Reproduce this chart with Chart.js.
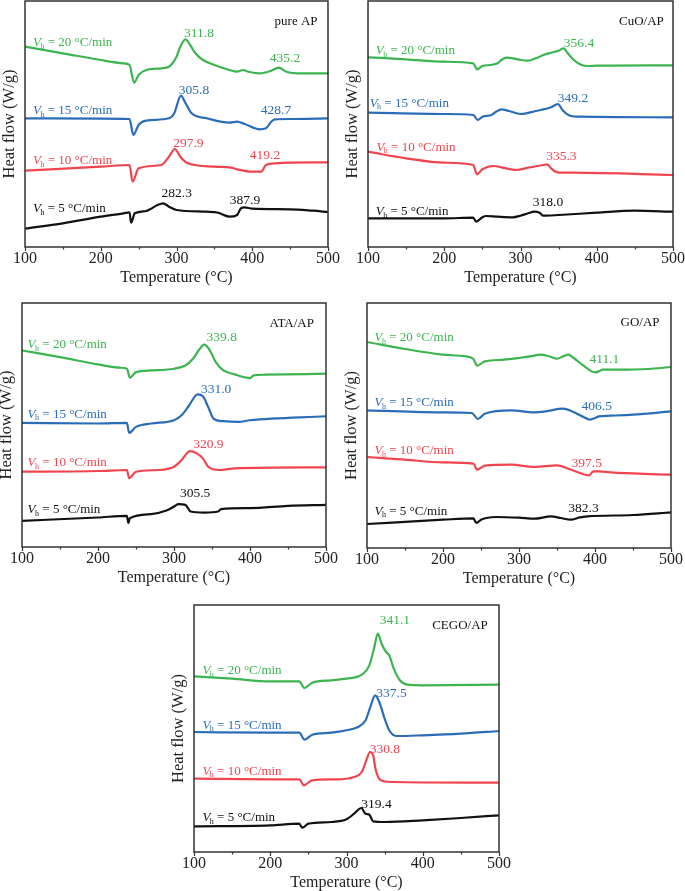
<!DOCTYPE html>
<html><head><meta charset="utf-8">
<script src="https://cdn.jsdelivr.net/npm/chart.js@4/dist/chart.umd.min.js"></script>
<style>
body{margin:0;background:#fff;width:685px;height:891px;position:relative;overflow:hidden}
.p{position:absolute}
</style></head><body>
<canvas class="p" id="c1"></canvas>
<canvas class="p" id="c2"></canvas>
<canvas class="p" id="c3"></canvas>
<canvas class="p" id="c4"></canvas>
<canvas class="p" id="c5"></canvas>
<script>
// ---------- data ----------
const xTicks = [100, 200, 300, 400, 500];
const rates = ['20', '15', '10', '5'];
const panelNames = ['pure AP', 'CuO/AP', 'ATA/AP', 'GO/AP', 'CEGO/AP'];

// [temperature °C, heat flow (arb., offset curves)]
const pureAP20 = [[100,200.3],[150,193.7],[200,187],[230,183.7],[238,182],[244,164.3],[250,172],[260,177],[280,178.7],[290,180.3],[300,190.3],[305,200.3],[311.8,207.7],[318,202],[325,193.7],[335,187],[350,182],[370,177],[380,175.3],[388,177],[395,175.3],[410,173.7],[425,176.3],[435,179.3],[445,175.3],[460,173.7],[500,173.7]];
const pureAP15 = [[100,128.7],[200,128.3],[238,128],[243,112],[250,122],[260,126.3],[290,128.7],[297,133.7],[305.8,151.3],[312,143.7],[320,133.7],[340,128.7],[370,124.3],[380,125.3],[390,123],[410,117.7],[418,118.7],[425,125.3],[430,127.7],[450,128],[500,128.7]];
const pureAP10 = [[100,76.3],[200,80.3],[238,82],[242,65.3],[250,78.7],[280,82],[290,90.3],[297.9,98],[305,90.3],[315,83.7],[350,80.3],[372,79.3],[380,77.7],[400,75.3],[412,75.3],[418,82],[430,83.7],[500,84.7]];
const pureAP5 = [[100,18.3],[150,23.7],[200,30.3],[230,33.7],[238,34.7],[240,24.3],[245,33.7],[260,36],[265,37.7],[275,42],[282.3,43.7],[290,40.3],[300,37],[340,35.3],[355,34.3],[360,32.7],[370,30.3],[380,32],[385,38.7],[390,39.7],[400,38.3],[450,37.7],[480,36.3],[500,35]];

const cuoAP20 = [[100,189.7],[150,187.7],[200,185.3],[238,183.7],[243,177.7],[250,181],[260,182],[270,183.7],[275,187],[282,189.3],[290,188.7],[300,187],[310,186.3],[320,188.7],[330,192],[340,194.3],[350,196.3],[356.4,198.7],[362,193.7],[370,187],[380,182],[390,181],[400,181.3],[500,181.7]];
const cuoAP15 = [[100,134.3],[200,133],[238,132],[244,127],[250,130.3],[262,132],[268,135.3],[275,137.7],[285,136],[300,133],[320,136],[340,139.7],[349.2,143],[355,137],[365,131.3],[380,130.3],[500,129.7]];
const cuoAP10 = [[100,95.3],[150,88.7],[200,84.3],[238,82],[243,72.7],[250,77.7],[265,81],[275,79.7],[295,77],[310,79.3],[330,82],[335.3,82.7],[340,78.7],[348,74.7],[370,74.3],[500,72]];
const cuoAP5 = [[100,28.7],[200,28.7],[238,29.3],[242,25.3],[250,29.7],[255,31],[270,30.3],[290,29.7],[300,31.3],[310,33.7],[318,35.3],[325,34.3],[330,31.3],[350,32],[400,34.3],[450,36.3],[500,35.3]];

const ataAP20 = [[100,197.3],[150,190.6],[200,183.3],[230,180],[238,179],[242,170],[250,175.6],[270,177.3],[300,179],[315,182.3],[325,189],[333,198],[339.8,203.3],[346,199],[355,185.6],[365,177.3],[380,173.3],[395,170],[400,169.6],[405,172.3],[420,173],[500,174]];
const ataAP15 = [[100,124.6],[200,124],[238,124.6],[241,114.6],[250,120.6],[270,124],[300,127.3],[310,132.3],[320,142.3],[331,153.3],[338,151.3],[345,140.6],[352,129],[365,126.3],[385,125.6],[400,127.3],[500,131.3]];
const ataAP10 = [[100,75.6],[200,76.3],[238,77.3],[241,69],[250,75.6],[280,77.3],[300,80.6],[310,87.3],[320.9,96.3],[330,94],[338,89],[345,80.6],[360,77.3],[380,79],[500,80]];
const ataAP5 = [[100,26.3],[200,29.6],[238,31.3],[240,24],[242,29],[270,33],[290,36.6],[300,40.6],[305.5,43],[315,42.3],[322,35.6],[340,34.6],[358,35.6],[362,38],[400,39],[450,41.3],[500,42.3]];

const goAP20 = [[100,206],[150,199],[200,193.3],[230,191.6],[240,189],[245,182.3],[255,186.6],[280,188.3],[300,190],[315,191.6],[328,193.3],[340,191.6],[350,189.3],[358,191.6],[365,193.3],[372,190],[385,182.3],[400,175.6],[405,176.6],[410,178.3],[430,178.3],[470,179],[500,181]];
const goAP15 = [[100,137.6],[200,135.6],[238,135],[246,129],[255,134.3],[290,137.6],[320,135.6],[335,136.6],[358,139.3],[370,136.6],[385,131],[393,128.3],[400,130],[405,131.6],[420,132.3],[450,133.3],[500,136.6]];
const goAP10 = [[100,91],[150,88.3],[200,85.6],[240,84.3],[245,78.3],[255,82.3],[290,83.3],[320,81],[350,82.6],[365,79.3],[380,75],[392,72.6],[398,76.6],[405,76.6],[420,75.6],[500,73.3]];
const goAP5 = [[100,24],[200,28.3],[240,29.6],[244,25],[250,28.3],[270,31],[300,30.3],[320,29.3],[342,31.6],[355,30],[368,28.3],[380,30.6],[390,31.6],[450,33],[500,35.6]];

const cegoAP20 = [[100,175.7],[150,173.3],[200,170.7],[238,170.7],[245,164],[255,169.3],[280,171.7],[300,173.3],[320,177.3],[330,186.7],[336,203.3],[341.1,218.3],[346,208.3],[352,200],[356,196.7],[362,183.3],[370,171.7],[380,167.3],[400,166.7],[500,167.3]];
const cegoAP15 = [[100,120],[200,119.3],[238,119.3],[245,112.3],[255,117.3],[280,119.3],[300,121.7],[315,125],[325,131.7],[332,146.7],[337.5,156.7],[343,150],[350,133.3],[356,121.7],[365,116],[400,116.7],[450,118.3],[500,121]];
const cegoAP10 = [[100,73.3],[200,72.7],[238,72.7],[244,66.7],[255,71.7],[290,72.7],[310,75],[320,80],[326,91.7],[330.8,100],[335,96.7],[338,83.3],[345,71.7],[360,70],[500,69.3]];
const cegoAP5 = [[100,25.7],[200,26.7],[238,28.3],[242,24.3],[250,28.3],[280,30],[300,32.7],[310,38.3],[319.4,44],[325,38.3],[330,37.3],[335,30.7],[350,30],[400,31.7],[450,34],[500,36.7]];

// peak temperatures labelled on each curve (20,15,10,5 °C/min)
const pureAPPeaks = [['311.8','435.2'], ['305.8','428.7'], ['297.9','419.2'], ['282.3','387.9']];
const cuoAPPeaks = [['356.4'], ['349.2'], ['335.3'], ['318.0']];
const ataAPPeaks = [['339.8'], ['331.0'], ['320.9'], ['305.5']];
const goAPPeaks = [['411.1'], ['406.5'], ['397.5'], ['382.3']];
const cegoAPPeaks = [['341.1'], ['337.5'], ['330.8'], ['319.4']];

// ---------- layout & style ----------
const colors = ['#3cb44f', '#2b6cb8', '#f0454f', '#111111'];
const SERIF = '"Liberation Serif", "Times New Roman", serif';
// plot rectangles [left, top, right, bottom] in page px
const rects = [[25,1,328,247],[368,1,673,247],[22,303,326,547],[367,303,671,548],[194,605,499,852]];
const yMaxes = [246, 246, 245, 245, 247];
// rate label anchors (data coords) per panel, per series
const rateAnchors = [
  [[110.6,204.5],[110.6,136.5],[110.6,86],[110.6,38]],
  [[110.1,196],[102.2,143.7],[111,99.7],[110.1,35.3]],
  [[107.4,203],[107.4,133.3],[107.4,84.6],[107.4,37.3]],
  [[110,210],[110,145],[110,97.3],[110,36.6]],
  [[111,181],[111,126.7],[111,80.7],[111,34]]
];
// peak label anchors (data coords), parallel to the *Peaks arrays
const peakAnchors = [
  [[[329.7,213.7],[443.2,188.7]], [[323.1,157],[431.4,137]], [[315.6,103.7],[416.8,92]], [[300.3,53.7],[390.4,47]]],
  [[[376.7,203.7]], [[368.9,148.7]], [[353.6,90.3]], [[336.1,44.7]]],
  [[[362.9,210]], [[355.4,158.3]], [[345.3,103.3]], [[327.8,53.3]]],
  [[[412.4,189]], [[402.3,141.6]], [[389.2,85]], [[384.8,40]]],
  [[[363.5,231.7]], [[359,158.4]], [[350.3,102.7]], [[339.4,47.4]]]
];
const nameAnchors = [[457.8,225.3],[458.6,225.3],[454.9,224.6],[459.3,225.6],[448.8,226]];

const panels = [
  {series:[pureAP20,pureAP15,pureAP10,pureAP5], peaks:pureAPPeaks},
  {series:[cuoAP20,cuoAP15,cuoAP10,cuoAP5], peaks:cuoAPPeaks},
  {series:[ataAP20,ataAP15,ataAP10,ataAP5], peaks:ataAPPeaks},
  {series:[goAP20,goAP15,goAP10,goAP5], peaks:goAPPeaks},
  {series:[cegoAP20,cegoAP15,cegoAP10,cegoAP5], peaks:cegoAPPeaks}
];

const PADL = 25, PADT = 5, PADR = 15, XH = 40;

const decor = {
  id: 'decor',
  afterDraw(chart) {
    const idx = chart.options.plugins.decor.idx;
    const ctx = chart.ctx, a = chart.chartArea;
    const xs = chart.scales.x, ys = chart.scales.y;
    ctx.save();
    // frame
    ctx.strokeStyle = '#333'; ctx.lineWidth = 1.5;
    ctx.strokeRect(a.left, a.top, a.right - a.left, a.bottom - a.top);
    // ticks (outward)
    ctx.lineWidth = 1.2;
    for (let t = 100; t <= 500; t += 50) {
      const px = Math.round(xs.getPixelForValue(t)) + 0.5;
      ctx.beginPath();
      ctx.moveTo(px, a.bottom);
      ctx.lineTo(px, a.bottom + (t % 100 === 0 ? 4 : 2.5));
      ctx.stroke();
    }
    ctx.textBaseline = 'middle';
    // rate labels
    rates.forEach((r, i) => {
      const [tx, tv] = rateAnchors[idx][i];
      let x = xs.getPixelForValue(tx), y = ys.getPixelForValue(tv);
      ctx.fillStyle = colors[i];
      ctx.textAlign = 'left';
      ctx.font = 'italic 13px ' + SERIF;
      ctx.fillText('V', x, y); x += ctx.measureText('V').width - 0.5;
      ctx.font = '8px ' + SERIF;
      ctx.fillText('h', x, y + 4); x += ctx.measureText('h').width;
      ctx.font = '13px ' + SERIF;
      ctx.fillText(' = ' + r + ' °C/min', x, y);
    });
    // peak labels
    const pk = panels[idx].peaks;
    pk.forEach((arr, i) => {
      arr.forEach((txt, j) => {
        const [tx, tv] = peakAnchors[idx][i][j];
        ctx.fillStyle = colors[i];
        ctx.textAlign = 'center';
        ctx.font = '13.5px ' + SERIF;
        ctx.fillText(txt, xs.getPixelForValue(tx), ys.getPixelForValue(tv));
      });
    });
    // panel name
    ctx.fillStyle = '#111'; ctx.textAlign = 'center'; ctx.font = '13px ' + SERIF;
    ctx.fillText(panelNames[idx], xs.getPixelForValue(nameAnchors[idx][0]), ys.getPixelForValue(nameAnchors[idx][1]));
    ctx.restore();
  }
};

panels.forEach((p, idx) => {
  const [L, T, R, B] = rects[idx];
  const cv = document.getElementById('c' + (idx + 1));
  const w = (R - L) + PADL + PADR, h = (B - T) + PADT + XH;
  cv.width = w; cv.height = h;
  cv.style.left = (L - PADL) + 'px';
  cv.style.top = (T - PADT) + 'px';
  cv.style.width = w + 'px'; cv.style.height = h + 'px';
  new Chart(cv, {
    type: 'line',
    data: {
      datasets: p.series.map((s, i) => ({
        label: rates[i] + ' °C/min',
        data: s.map(q => ({x: q[0], y: q[1]})),
        borderColor: colors[i],
        borderWidth: 2.2,
        pointRadius: 0,
        fill: false,
        cubicInterpolationMode: 'monotone'
      }))
    },
    options: {
      responsive: false, animation: false, devicePixelRatio: 1,
      layout: {padding: {top: PADT, right: PADR, left: 0, bottom: 0}},
      plugins: {legend: {display: false}, tooltip: {enabled: false}, decor: {idx}},
      scales: {
        x: {
          type: 'linear', min: 100, max: 500,
          afterBuildTicks: s => { s.ticks = xTicks.map(v => ({value: v})); },
          afterFit: s => { s.height = XH; },
          grid: {display: false, drawTicks: false},
          border: {display: false},
          ticks: {padding: 2, color: '#222', maxRotation: 0, autoSkip: false, font: {family: SERIF, size: 16}},
          title: {display: true, text: 'Temperature (°C)', color: '#222', font: {family: SERIF, size: 16}, padding: {top: 0, bottom: 0}}
        },
        y: {
          type: 'linear', min: 0, max: yMaxes[idx],
          afterFit: s => { s.width = PADL; },
          ticks: {display: false},
          grid: {display: false, drawTicks: false},
          border: {display: false},
          title: {display: true, text: 'Heat flow (W/g)', color: '#222', font: {family: SERIF, size: 16.5}, padding: {top: 0, bottom: 0}}
        }
      }
    },
    plugins: [decor]
  });
});
</script>
</body></html>
